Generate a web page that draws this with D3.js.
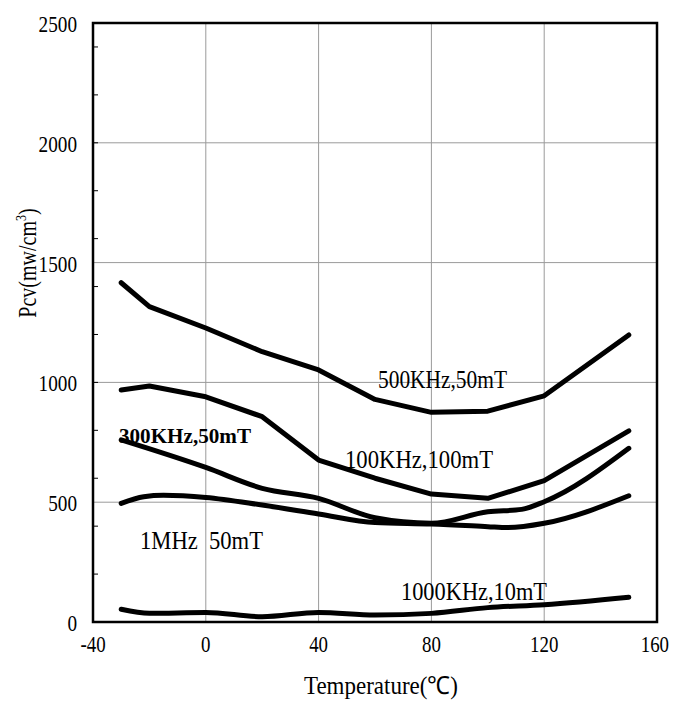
<!DOCTYPE html>
<html><head><meta charset="utf-8">
<script src="https://cdn.jsdelivr.net/npm/d3@7"></script>
<style>body{margin:0;background:#fff}svg{display:block}text{font-family:"Liberation Serif","Times New Roman",serif;fill:#000}</style>
</head><body><svg id="c" width="674" height="702"></svg>
<script>
const xTicks = [-40, 0, 40, 80, 120, 160];
const yTicks = [0, 500, 1000, 1500, 2000, 2500];
const yMinorTicks = [200, 400, 600, 800, 1000, 1200, 1400, 1600, 1800, 2000, 2200, 2400];

const t500 = [-30, -20, 0, 20, 40, 60, 80, 100, 120, 150];
const v500 = [1416, 1316, 1227, 1128, 1052, 929, 875, 880, 944, 1198];
const t100 = [-30, -20, 0, 20, 40, 60, 80, 100, 120, 150];
const v100 = [968, 985, 940, 857, 676, 600, 534, 516, 590, 798];
const t300 = [-30, 0, 20, 40, 60, 80, 100, 112, 120, 150];
const v300 = [760, 645, 558, 516, 435, 412, 460, 470, 502, 725];
const t1M = [-30, -22, -15, 0, 20, 40, 60, 80, 100, 107, 120, 150];
const v1M = [495, 523, 529, 520, 488, 451, 415, 409, 398, 394, 412, 527];
const t1000 = [-30, -20, 0, 20, 40, 60, 80, 100, 120, 150];
const v1000 = [53, 36, 40, 22, 40, 29, 36, 60, 72, 103];

const seriesLabels = ["500KHz,50mT", "100KHz,100mT", "300KHz,50mT", "1MHz  50mT", "1000KHz,10mT"];

const svg = d3.select("#c");
const L = 93, R = 657, T = 23, B = 622;
const x = d3.scaleLinear().domain([-40, 160]).range([L, R]);
const y = d3.scaleLinear().domain([0, 2500]).range([B, T]);

function squeeze(sel, k) {
  sel.each(function() {
    const w = this.getComputedTextLength();
    d3.select(this).attr("textLength", w * k).attr("lengthAdjust", "spacingAndGlyphs");
  });
}

// grid
svg.append("g").selectAll("line").data(xTicks.slice(1, -1)).join("line")
  .attr("x1", d => x(d)).attr("x2", d => x(d)).attr("y1", T).attr("y2", B)
  .attr("stroke", "#9a9a9a").attr("stroke-width", 1);
svg.append("g").selectAll("line").data(yTicks.slice(1, -1)).join("line")
  .attr("y1", d => y(d)).attr("y2", d => y(d)).attr("x1", L).attr("x2", R)
  .attr("stroke", "#9a9a9a").attr("stroke-width", 1);

// minor ticks on left axis
svg.append("g").selectAll("line").data(yMinorTicks).join("line")
  .attr("y1", d => y(d)).attr("y2", d => y(d)).attr("x1", L).attr("x2", L + 5)
  .attr("stroke", "#000").attr("stroke-width", 1);

// series
const series = [[t500, v500], [t100, v100], [t300, v300], [t1M, v1M], [t1000, v1000]];
const curves = [d3.curveLinear, d3.curveLinear, d3.curveMonotoneX, d3.curveMonotoneX, d3.curveMonotoneX];
series.forEach(([ts, vs], i) => {
  const line = d3.line().x(d => x(d[0])).y(d => y(d[1])).curve(curves[i]);
  svg.append("path").datum(ts.map((t, j) => [t, vs[j]]))
    .attr("d", line).attr("fill", "none").attr("stroke", "#000")
    .attr("stroke-width", 5).attr("stroke-linejoin", "round").attr("stroke-linecap", "round");
});

// frame
svg.append("rect").attr("x", L).attr("y", T).attr("width", R - L).attr("height", B - T)
  .attr("fill", "none").attr("stroke", "#000").attr("stroke-width", 2.5);

// tick labels
svg.append("g").selectAll("text").data(yTicks).join("text")
  .attr("x", 77).attr("y", d => y(d) + 9).attr("text-anchor", "end")
  .attr("font-size", 24).text(d => d).call(squeeze, 0.8);
const lastX = xTicks[xTicks.length - 1];
svg.append("g").selectAll("text").data(xTicks).join("text")
  .attr("x", d => d === lastX ? x(d) + 12 : x(d)).attr("y", 652)
  .attr("text-anchor", d => d === lastX ? "end" : "middle")
  .attr("font-size", 23).text(d => d).call(squeeze, 0.82);

// axis titles
svg.append("text").attr("x", 381).attr("y", 694).attr("text-anchor", "middle")
  .attr("font-size", 25).text("Temperature(℃)").attr("textLength", 154).attr("lengthAdjust", "spacingAndGlyphs");
const yt = svg.append("text").attr("transform", "translate(36,263) rotate(-90) scale(0.8,1)")
  .attr("text-anchor", "middle").attr("font-size", 25);
yt.append("tspan").text("Pcv(mw/cm");
yt.append("tspan").attr("font-size", 15).attr("dy", -10).text("3");
yt.append("tspan").attr("dy", 10).text(")");

// series labels
const labelPos = [
  {x: 378, y: 388, w: 129, fs: 25, fw: "normal"},
  {x: 345, y: 468, w: 148, fs: 25, fw: "normal"},
  {x: 119, y: 443, w: 132, fs: 21, fw: "bold"},
  {x: 140, y: 549, w: 123, fs: 25, fw: "normal"},
  {x: 401, y: 600, w: 146, fs: 25, fw: "normal"}
];
svg.append("g").selectAll("text").data(seriesLabels).join("text")
  .attr("x", (d, i) => labelPos[i].x).attr("y", (d, i) => labelPos[i].y)
  .attr("font-size", (d, i) => labelPos[i].fs).attr("font-weight", (d, i) => labelPos[i].fw)
  .style("white-space", "pre")
  .attr("textLength", (d, i) => labelPos[i].w).attr("lengthAdjust", "spacingAndGlyphs")
  .text(d => d);
</script></body></html>
